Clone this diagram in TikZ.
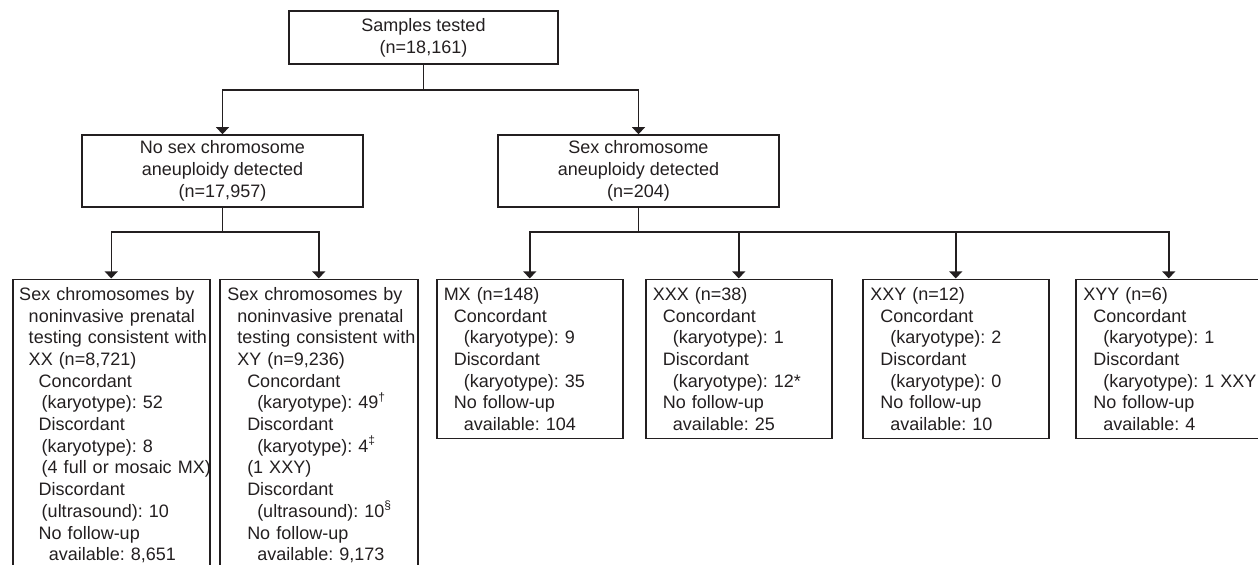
\documentclass[tikz,border=0pt]{standalone}
\usepackage{fontspec}
\setmainfont{Liberation Sans}
\usepackage{xcolor}
\usetikzlibrary{arrows.meta}
\definecolor{figink}{HTML}{231F20}
\newcommand{\indt}[1]{\hspace*{\dimexpr 3.25pt+#1pt\relax}}

\begin{document}
\frenchspacing
\begin{tikzpicture}[x=0.5pt,y=-0.5pt,
  box/.style={draw=figink,line width=0.75pt,text=figink,align=center,inner sep=0pt,font=\fontsize{9}{10.85}\selectfont},
  leaf/.style={draw=figink,line width=0.75pt,text=figink,align=left,anchor=north west,inner xsep=0pt,inner ysep=4pt,font=\fontsize{9}{10.85}\selectfont\frenchspacing},
  arr/.style={draw=figink,line width=0.75pt,-{Triangle[width=6.5pt,length=3.6pt]}}
]
\useasboundingbox (0,0) rectangle (1258,564);

\node[box,minimum width=134.5pt,minimum height=26.5pt] (tested) at (423.5,37.5) {Samples tested\\(n=18,161)};
\node[box,minimum width=140.5pt,minimum height=36pt] (nosca) at (222.5,171) {No sex chromosome\\aneuploidy detected\\(n=17,957)};
\node[box,minimum width=140.5pt,minimum height=36pt] (sca) at (638.5,171) {Sex chromosome\\aneuploidy detected\\(n=204)};

\node[leaf,text width=98.5pt] (xx) at (12,278.5) {\indt{0}\mbox{Sex chromosomes by}\\
  \indt{4.75}\mbox{noninvasive prenatal}\\
  \indt{4.75}\mbox{testing consistent with}\\
  \indt{4.75}XX (n=8,721)\\
  \indt{9.75}Concordant\\
  \indt{11.25}(karyotype): 52\\
  \indt{9.75}Discordant\\
  \indt{11.25}(karyotype): 8\\
  \indt{11.25}\mbox{(4 full or mosaic MX)}\\
  \indt{9.75}Discordant\\
  \indt{11.25}(ultrasound): 10\\
  \indt{9.75}No follow-up\\
  \indt{14.75}available: 8,651};
\node[leaf,text width=99pt] (xy) at (219,278.5) {\indt{0.5}\mbox{Sex chromosomes by}\\
  \indt{5.5}\mbox{noninvasive prenatal}\\
  \indt{5.5}\mbox{testing consistent with}\\
  \indt{5.5}XY (n=9,236)\\
  \indt{10.5}Concordant\\
  \indt{15.5}(karyotype): 49\textsuperscript{†}\\
  \indt{10.5}Discordant\\
  \indt{15.5}(karyotype): 4\textsuperscript{‡}\\
  \indt{10.5}(1 XXY)\\
  \indt{10.5}Discordant\\
  \indt{15.5}(ultrasound): 10\textsuperscript{§}\\
  \indt{10.5}No follow-up\\
  \indt{15.5}available: 9,173};

\node[leaf,text width=93pt] (mx) at (436,278.5) {\indt{0.25}MX (n=148)\\
  \indt{5.25}Concordant\\
  \indt{10.25}(karyotype): 9\\
  \indt{5.25}Discordant\\
  \indt{10.25}(karyotype): 35\\
  \indt{5.25}No follow-up\\
  \indt{10.25}available: 104};
\node[leaf,text width=93pt] (xxx) at (645,278.5) {\indt{0.25}XXX (n=38)\\
  \indt{5.25}Concordant\\
  \indt{10.25}(karyotype): 1\\
  \indt{5.25}Discordant\\
  \indt{10.25}(karyotype): 12*\\
  \indt{5.25}No follow-up\\
  \indt{10.25}available: 25};
\node[leaf,text width=93pt] (xxy) at (862,278.5) {\indt{0.5}XXY (n=12)\\
  \indt{5.5}Concordant\\
  \indt{10.5}(karyotype): 2\\
  \indt{5.5}Discordant\\
  \indt{10.5}(karyotype): 0\\
  \indt{5.5}No follow-up\\
  \indt{10.5}available: 10};
\node[leaf,text width=93pt] (xyy) at (1075,278.5) {\indt{0.5}XYY (n=6)\\
  \indt{5.5}Concordant\\
  \indt{10.5}(karyotype): 1\\
  \indt{5.5}Discordant\\
  \indt{10.5}\mbox{(karyotype): 1 XXY}\\
  \indt{5.5}No follow-up\\
  \indt{10.5}available: 4};

\draw[arr] (tested.south) -- ++(0,25) -| (nosca.north);
\draw[arr] (tested.south) -- ++(0,25) -| (sca.north);
\foreach \leaf in {xx,xy}
  \draw[arr] (nosca.south) -- ++(0,24) -| (\leaf.north);
\foreach \leaf in {mx,xxx,xxy,xyy}
  \draw[arr] (sca.south) -- ++(0,24) -| (\leaf.north);
\end{tikzpicture}
\end{document}
